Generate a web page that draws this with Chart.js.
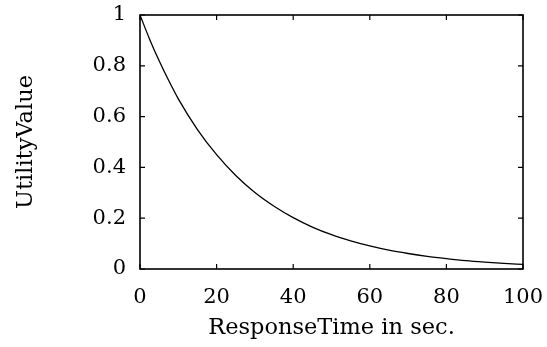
<!DOCTYPE html>
<html>
<head>
<meta charset="utf-8">
<script src="https://cdn.jsdelivr.net/npm/chart.js@4"></script>
<style>
html,body{margin:0;padding:0;background:#fff;}
#wrap{width:547px;height:347px;}
</style>
</head>
<body>
<div id="wrap"><canvas id="c" width="547" height="347"></canvas></div>
<script>
const responseTime = [0,2.5,5,7.5,10,15,20,25,30,35,40,45,50,55,60,65,70,75,80,85,90,95,100];
const utilityValue = [1,0.905,0.82,0.742,0.67,0.549,0.45,0.368,0.301,0.247,0.202,0.165,0.135,0.111,0.091,0.074,0.061,0.05,0.041,0.033,0.027,0.022,0.018];
const xTicks = [0,20,40,60,80,100];
const yTicks = [0,0.2,0.4,0.6,0.8,1];
const xTitle = 'ResponseTime in sec.';
const yTitle = 'UtilityValue';

const FONT = "'DejaVu Serif', 'Liberation Serif', serif";
const FS = 21;
const FT = 22.5;

const frame = {
  id: 'frame',
  afterDatasetsDraw(chart) {
    const ctx = chart.ctx, a = chart.chartArea;
    const xs = chart.scales.x, ys = chart.scales.y;
    const L = 5;
    ctx.save();
    ctx.strokeStyle = '#000';
    ctx.lineWidth = 1.2;
    ctx.beginPath();
    xTicks.forEach(v => {
      const px = xs.getPixelForValue(v);
      ctx.moveTo(px, a.bottom); ctx.lineTo(px, a.bottom - L);
      ctx.moveTo(px, a.top); ctx.lineTo(px, a.top + L);
    });
    yTicks.forEach(v => {
      const py = ys.getPixelForValue(v);
      ctx.moveTo(a.left, py); ctx.lineTo(a.left + L, py);
      ctx.moveTo(a.right, py); ctx.lineTo(a.right - L, py);
    });
    ctx.stroke();
    ctx.lineWidth = 1.6;
    ctx.strokeRect(a.left, a.top, a.right - a.left, a.bottom - a.top);
    ctx.restore();
  }
};

new Chart(document.getElementById('c'), {
  type: 'line',
  data: {
    datasets: [{
      data: responseTime.map((x, i) => ({x, y: utilityValue[i]})),
      borderColor: '#000',
      borderWidth: 1.3,
      pointRadius: 0,
      cubicInterpolationMode: 'monotone',
      fill: false
    }]
  },
  options: {
    responsive: false,
    animation: false,
    devicePixelRatio: 1,
    layout: {padding: {left: 0, right: 24, top: 15, bottom: 0}},
    plugins: {legend: {display: false}, tooltip: {enabled: false}},
    scales: {
      x: {
        type: 'linear', min: 0, max: 100,
        afterBuildTicks: s => { s.ticks = xTicks.map(v => ({value: v})); },
        afterFit: s => { s.height = 78; s.paddingLeft = 0; s.paddingRight = 0; },
        grid: {display: false, drawTicks: false},
        border: {display: false},
        ticks: {color: '#000', font: {family: FONT, size: FS}, padding: 16, maxRotation: 0, autoSkip: false},
        title: {display: true, text: xTitle, color: '#000', font: {family: FONT, size: FT}, padding: {top: 0, bottom: 5}}
      },
      y: {
        type: 'linear', min: 0, max: 1,
        afterBuildTicks: s => { s.ticks = yTicks.map(v => ({value: v})); },
        afterFit: s => { s.width = 140; s.paddingTop = 0; s.paddingBottom = 0; },
        grid: {display: false, drawTicks: false},
        border: {display: false},
        ticks: {color: '#000', font: {family: FONT, size: FS}, padding: 14, autoSkip: false,
          callback: v => String(v)},
        title: {display: true, text: yTitle, color: '#000', font: {family: FONT, size: FT}, padding: {top: 13, bottom: 0}}
      }
    }
  },
  plugins: [frame]
});
</script>
</body>
</html>
